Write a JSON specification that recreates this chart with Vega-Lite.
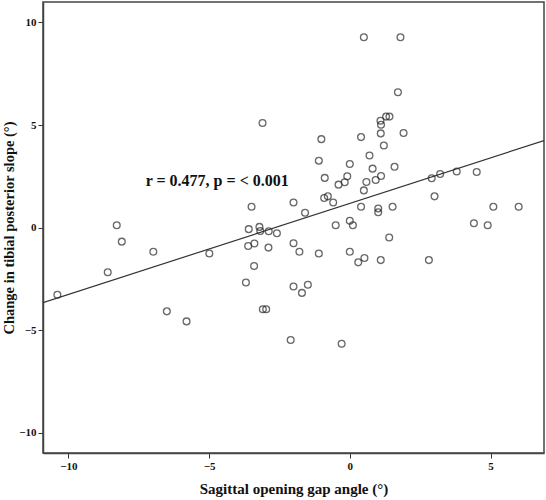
{
  "$schema": "https://vega.github.io/schema/vega-lite/v6.json",
  "width": 501,
  "height": 451,
  "autosize": "none",
  "padding": {"left": 43, "top": 2, "right": 2, "bottom": 47},
  "background": "white",
  "datasets": {
    "points": [
      {"gap": -10.39, "slope": -3.28}, {"gap": -8.28, "slope": 0.11}, {"gap": -8.10, "slope": -0.69},
      {"gap": -8.60, "slope": -2.18}, {"gap": -6.98, "slope": -1.18}, {"gap": -6.50, "slope": -4.09},
      {"gap": -5.80, "slope": -4.58}, {"gap": -4.99, "slope": -1.27}, {"gap": -3.10, "slope": 5.10},
      {"gap": -3.49, "slope": 1.01}, {"gap": -2.00, "slope": 1.22}, {"gap": -1.59, "slope": 0.72},
      {"gap": -0.91, "slope": 1.44}, {"gap": -0.78, "slope": 1.52}, {"gap": -0.59, "slope": 1.22},
      {"gap": -3.59, "slope": -0.08}, {"gap": -3.21, "slope": 0.03}, {"gap": -3.18, "slope": -0.17},
      {"gap": -2.88, "slope": -0.18}, {"gap": -2.59, "slope": -0.28}, {"gap": -0.50, "slope": 0.11},
      {"gap": 0.00, "slope": 0.33}, {"gap": 0.11, "slope": 0.11}, {"gap": -3.61, "slope": -0.90},
      {"gap": -3.39, "slope": -0.78}, {"gap": -2.89, "slope": -0.98}, {"gap": -2.00, "slope": -0.77},
      {"gap": -1.79, "slope": -1.18}, {"gap": -1.10, "slope": -1.27}, {"gap": 0.00, "slope": -1.18},
      {"gap": 0.30, "slope": -1.70}, {"gap": 0.52, "slope": -1.49}, {"gap": -3.40, "slope": -1.88},
      {"gap": -3.69, "slope": -2.68}, {"gap": -2.00, "slope": -2.88}, {"gap": -1.49, "slope": -2.79},
      {"gap": -1.70, "slope": -3.19}, {"gap": -3.09, "slope": -3.99}, {"gap": -2.97, "slope": -3.99},
      {"gap": -2.10, "slope": -5.49}, {"gap": -0.29, "slope": -5.67}, {"gap": -1.10, "slope": 3.26},
      {"gap": -0.89, "slope": 2.42}, {"gap": -0.09, "slope": 2.50}, {"gap": -0.40, "slope": 2.09},
      {"gap": -0.18, "slope": 2.21}, {"gap": 0.50, "slope": 1.81}, {"gap": 0.40, "slope": 1.01},
      {"gap": 0.50, "slope": 9.28}, {"gap": 1.80, "slope": 9.28}, {"gap": 1.71, "slope": 6.60},
      {"gap": 1.09, "slope": 5.21}, {"gap": 1.11, "slope": 5.01}, {"gap": 1.29, "slope": 5.41},
      {"gap": 1.41, "slope": 5.41}, {"gap": 1.10, "slope": 4.59}, {"gap": 1.91, "slope": 4.61},
      {"gap": -1.01, "slope": 4.31}, {"gap": 0.40, "slope": 4.41}, {"gap": 1.21, "slope": 4.00},
      {"gap": 0.70, "slope": 3.51}, {"gap": 0.00, "slope": 3.10}, {"gap": 0.81, "slope": 2.87},
      {"gap": 1.59, "slope": 2.96}, {"gap": 0.59, "slope": 2.22}, {"gap": 0.92, "slope": 2.32},
      {"gap": 1.11, "slope": 2.51}, {"gap": 2.91, "slope": 2.40}, {"gap": 3.21, "slope": 2.61},
      {"gap": 3.80, "slope": 2.73}, {"gap": 4.51, "slope": 2.71}, {"gap": 3.01, "slope": 1.52},
      {"gap": 1.01, "slope": 0.93}, {"gap": 1.01, "slope": 0.74}, {"gap": 1.52, "slope": 1.01},
      {"gap": 5.10, "slope": 1.01}, {"gap": 6.00, "slope": 1.01}, {"gap": 4.41, "slope": 0.21},
      {"gap": 4.90, "slope": 0.11}, {"gap": 1.40, "slope": -0.49}, {"gap": 1.10, "slope": -1.59},
      {"gap": 2.81, "slope": -1.59}
    ],
    "fit": [
      {"gap": -10.9, "slope": -3.67},
      {"gap": 6.9, "slope": 4.24}
    ],
    "note": [
      {"gap": -4.71, "slope": 2.27, "label": "r = 0.477, p = < 0.001"}
    ]
  },
  "encoding": {
    "x": {
      "field": "gap",
      "type": "quantitative",
      "title": "Sagittal opening gap angle (°)",
      "scale": {"domain": [-10.9, 6.9], "nice": false, "zero": false},
      "axis": {"values": [-10, -5, 0, 5], "titlePadding": 10, "titleFontSize": 15}
    },
    "y": {
      "field": "slope",
      "type": "quantitative",
      "title": "Change in tibial posterior slope (°)",
      "scale": {"domain": [-11, 11], "nice": false, "zero": false},
      "axis": {"values": [-10, -5, 0, 5, 10], "titlePadding": 2, "titleFontSize": 14.5}
    }
  },
  "layer": [
    {
      "data": {"name": "fit"},
      "mark": {"type": "line", "color": "#333333", "strokeWidth": 1.2, "clip": true}
    },
    {
      "data": {"name": "points"},
      "mark": {"type": "point", "shape": "circle", "filled": false, "size": 46, "stroke": "#2a2a2a", "strokeWidth": 1.3}
    },
    {
      "data": {"name": "note"},
      "mark": {"type": "text", "font": "Liberation Serif", "fontWeight": "bold", "fontSize": 16, "align": "center", "baseline": "middle", "color": "#111111"},
      "encoding": {"text": {"field": "label"}}
    }
  ],
  "config": {
    "view": {"stroke": "#444444", "strokeWidth": 1.5},
    "axis": {
      "grid": false,
      "domainColor": "#444444",
      "domainWidth": 1.5,
      "tickColor": "#333333",
      "tickSize": 5,
      "labelFont": "Liberation Serif",
      "labelFontWeight": "bold",
      "labelFontSize": 11,
      "labelColor": "#111111",
      "labelPadding": 2,
      "titleFont": "Liberation Serif",
      "titleFontWeight": "bold",
      "titleColor": "#111111"
    }
  }
}
